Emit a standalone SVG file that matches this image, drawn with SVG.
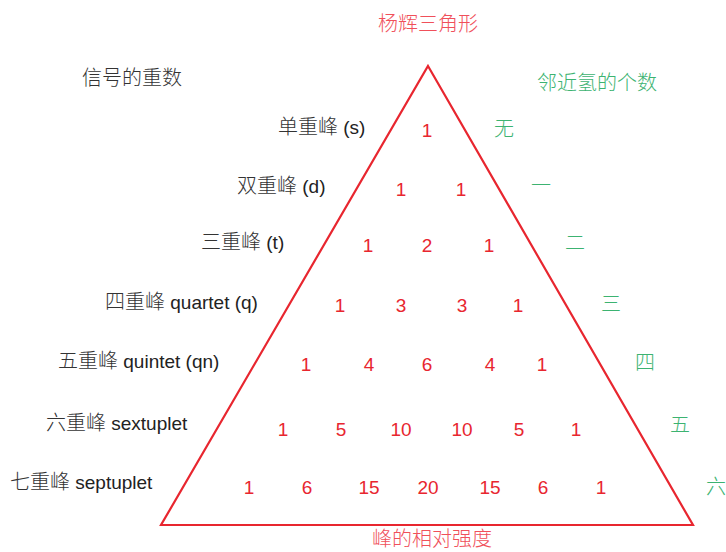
<svg xmlns="http://www.w3.org/2000/svg" width="726" height="552" viewBox="0 0 726 552">
<style>
.lbl{font-family:"Noto Sans CJK SC",sans-serif;font-size:20px;fill:#333;font-weight:300}
.lat{font-family:"Liberation Sans",Arial,sans-serif;font-size:19px;fill:#222;font-weight:400}
.num{font-family:"Liberation Sans",Arial,sans-serif;font-size:19px;fill:#e8262f;text-anchor:middle}
.grn{font-family:"Noto Sans CJK SC",sans-serif;font-size:20px;fill:#3cb371;font-weight:300}
.ttl{font-family:"Noto Sans CJK SC",sans-serif;font-size:20px;fill:#f0505a;text-anchor:middle;font-weight:300}
</style>
<rect width="726" height="552" fill="#fff"/>
<g id="connectors">
<polygon id="triangle" points="428,66 693,525 161,525" fill="none" stroke="#e8262f" stroke-width="2.2" stroke-linejoin="miter"/>
</g>
<g id="titles">
<text class="ttl" x="428" y="31">杨辉三角形</text>
<text class="ttl" x="432" y="546">峰的相对强度</text>
<text class="lbl" x="82" y="85">信号的重数</text>
<text class="grn" x="537" y="90">邻近氢的个数</text>
</g>
<g id="multiplicity">
<text class="lbl" x="278" y="134">单重峰<tspan class="lat"> (s)</tspan></text>
<text class="lbl" x="237" y="193">双重峰<tspan class="lat"> (d)</tspan></text>
<text class="lbl" x="201" y="249">三重峰<tspan class="lat"> (t)</tspan></text>
<text class="lbl" x="105" y="309">四重峰<tspan class="lat"> quartet (q)</tspan></text>
<text class="lbl" x="58" y="368">五重峰<tspan class="lat"> quintet (qn)</tspan></text>
<text class="lbl" x="46" y="430">六重峰<tspan class="lat"> sextuplet</tspan></text>
<text class="lbl" x="10" y="489">七重峰<tspan class="lat"> septuplet</tspan></text>
</g>
<g id="numbers">
<text class="num" x="427" y="137">1</text>
<text class="num" x="401" y="196">1</text><text class="num" x="461" y="196">1</text>
<text class="num" x="368" y="252">1</text><text class="num" x="427" y="252">2</text><text class="num" x="489" y="252">1</text>
<text class="num" x="340" y="312">1</text><text class="num" x="401" y="312">3</text><text class="num" x="462" y="312">3</text><text class="num" x="518" y="312">1</text>
<text class="num" x="306" y="371">1</text><text class="num" x="369" y="371">4</text><text class="num" x="427" y="371">6</text><text class="num" x="490" y="371">4</text><text class="num" x="542" y="371">1</text>
<text class="num" x="283" y="436">1</text><text class="num" x="341" y="436">5</text><text class="num" x="401" y="436">10</text><text class="num" x="462" y="436">10</text><text class="num" x="519" y="436">5</text><text class="num" x="576" y="436">1</text>
<text class="num" x="249" y="494">1</text><text class="num" x="307" y="494">6</text><text class="num" x="369" y="494">15</text><text class="num" x="428" y="494">20</text><text class="num" x="490" y="494">15</text><text class="num" x="543" y="494">6</text><text class="num" x="601" y="494">1</text>
</g>
<g id="neighbors">
<text class="grn" x="494" y="136">无</text>
<text class="grn" x="531" y="193">一</text>
<text class="grn" x="565" y="250">二</text>
<text class="grn" x="601" y="311">三</text>
<text class="grn" x="635" y="370">四</text>
<text class="grn" x="670" y="432">五</text>
<text class="grn" x="706" y="494">六</text>
</g>
</svg>
